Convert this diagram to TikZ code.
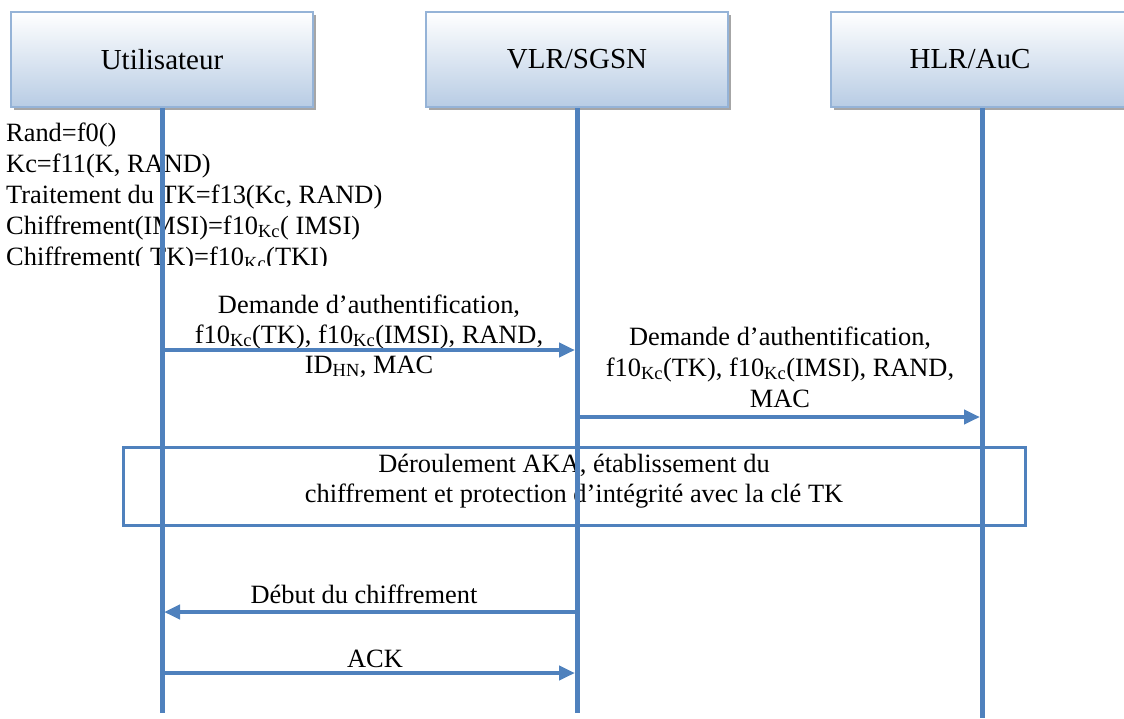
\documentclass[tikz,border=0pt]{standalone}
\usepackage{fontspec}
\setmainfont{Liberation Serif}
\usetikzlibrary{arrows.meta,shadows}
\definecolor{lineblue}{HTML}{4F81BD}
\definecolor{boxedge}{HTML}{95B3D7}
\definecolor{boxbot}{HTML}{B8CCE4}
\begin{document}
\begin{tikzpicture}[x=1pt,y=-1pt,
  actor/.style={draw=boxedge, line width=2pt, top color=white, bottom color=boxbot,
    minimum width=302pt, minimum height=95pt, inner sep=0pt,
    font=\fontsize{29}{34}\selectfont,
    drop shadow={shadow xshift=3pt, shadow yshift=-3pt, fill=black!35, opacity=1}},
  life/.style={draw=lineblue, line width=5pt},
  msg/.style={draw=lineblue, line width=4pt, -{Triangle[length=16pt,width=14pt]}},
  txt/.style={font=\fontsize{26.4}{31}\selectfont, inner sep=0pt, anchor=base},
  ltxt/.style={txt, anchor=base west},
  akabox/.style={draw=lineblue, line width=3pt, inner sep=0pt},
]
\clip (0,0) rectangle (1124,718);
\useasboundingbox (0,0) rectangle (1124,718);

% actor boxes
\node[actor] (U) at (162,59.5) {Utilisateur};
\node[actor] (V) at (577,59.5) {VLR/SGSN};
\node[actor] (H) at (982,59.5) {\hspace*{-24pt}HLR/AuC};

% left computation text (clipped at the bottom)
\begin{scope}
\clip (0,112) rectangle (420,265);
\node[ltxt] (c1) at (6,141) {Rand=f0()};
\node[ltxt] (c2) at (6,172) {Kc=f11(K, RAND)};
\node[ltxt] (c3) at (6,203) {Traitement du TK=f13(Kc, RAND)};
\node[ltxt] (c4) at (6,234) {Chiffrement(IMSI)=f10\textsubscript{Kc}( IMSI)};
\node[ltxt] (c5) at (6,265.5) {Chiffrement( TK)=f10\textsubscript{Kc}(TKI)};
\end{scope}

% message labels
\node[txt] (l1a) at (369,313) {Demande d’authentification,};
\node[txt] (l1b) at (369,343) {f10\textsubscript{Kc}(TK), f10\textsubscript{Kc}(IMSI), RAND,};
\node[txt] (l1c) at (369,373) {ID\textsubscript{HN}, MAC};

\node[txt] (l2a) at (780,345) {Demande d’authentification,};
\node[txt] (l2b) at (780,376) {f10\textsubscript{Kc}(TK), f10\textsubscript{Kc}(IMSI), RAND,};
\node[txt] (l2c) at (780,407) {MAC};

% AKA box
\node[akabox, minimum width=902pt, minimum height=78pt] (aka) at (574,486) {};
\node[txt] (ak1) at (574,472) {Déroulement AKA, établissement du};
\node[txt] (ak2) at (574,502) {chiffrement et protection d’intégrité avec la clé TK};

\node[txt] (l3) at (364,603) {Début du chiffrement};
\node[txt] (l4) at (375,667) {ACK};

% lifelines
\coordinate (Uend) at (162,713);
\coordinate (Vend) at (577,713);
\coordinate (Hend) at (982,718);
\draw[life] (U.south) -- (Uend);
\draw[life] (V.south) -- (Vend);
\draw[life] (H.south) -- (Hend);

% messages
\coordinate (m1s) at (162,350); \coordinate (m1e) at (575,350);
\coordinate (m2s) at (577,417); \coordinate (m2e) at (980,417);
\coordinate (m3s) at (577,612); \coordinate (m3e) at (164,612);
\coordinate (m4s) at (162,673); \coordinate (m4e) at (575,673);
\draw[msg] (m1s) -- (m1e);
\draw[msg] (m2s) -- (m2e);
\draw[msg] (m3s) -- (m3e);
\draw[msg] (m4s) -- (m4e);
\end{tikzpicture}
\end{document}
